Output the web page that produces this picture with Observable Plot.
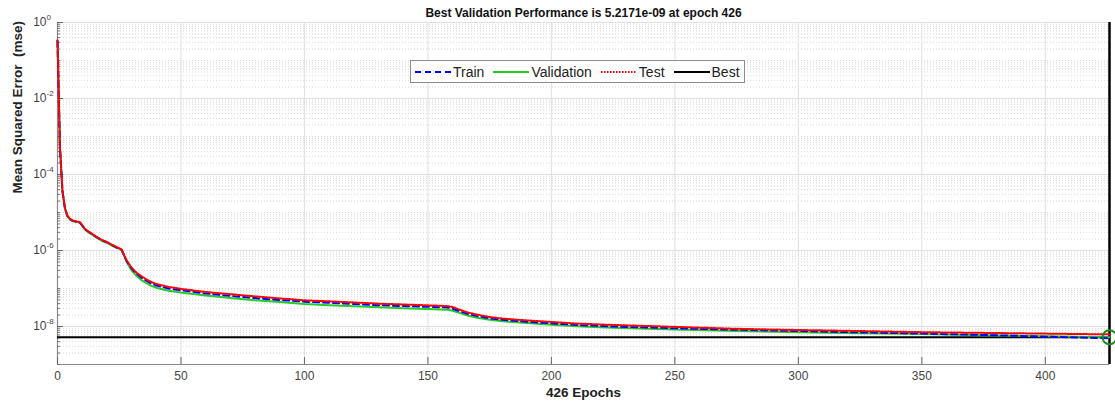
<!DOCTYPE html>
<html>
<head>
<meta charset="utf-8">
<script src="https://cdn.jsdelivr.net/npm/d3@7"></script>
<script src="https://cdn.jsdelivr.net/npm/@observablehq/plot@0.6"></script>
<style>
  body { margin: 0; background: #fff; font-family: "Liberation Sans", Arial, sans-serif; }
  #chart { position: relative; width: 1115px; height: 404px; }
  .legend {
    position: absolute; left: 410px; top: 60px; height: 23px;
    display: flex; align-items: center; padding: 0 4px 0 3px;
    background: #fff; border: 1px solid #8c8c8c; box-sizing: border-box;
    font-size: 14px; color: #222;
  }
  .legend .item { display: flex; align-items: center; margin-right: 8px; }
  .legend .item:last-child { margin-right: 0; }
  .legend svg { display: block; margin-right: 1px; }
</style>
</head>
<body>
<div id="chart"></div>
<script>
// Training record: mean squared error per epoch for each data split
const epochs = [0, 1, 2, 3, 4, 5, 6, 7, 8, 9, 10, 11, 12, 14, 16, 18, 20, 22, 24, 25, 26, 27, 28, 30, 32, 34, 36, 38, 40, 45, 50, 60, 70, 80, 90, 100, 110, 120, 130, 140, 150, 155, 158, 160, 163, 166, 170, 175, 180, 190, 200, 210, 225, 250, 275, 300, 325, 350, 375, 400, 426];

const trainMse = [3.2e-1, 5.2e-4, 3.7e-5, 1.3e-5, 8.1e-6, 6.8e-6, 6.1e-6, 5.85e-6, 5.7e-6, 5.5e-6, 4.6e-6, 3.7e-6, 3.3e-6, 2.7e-6, 2.2e-6, 1.85e-6, 1.65e-6, 1.4e-6, 1.2e-6, 1.13e-6, 1.04e-6, 7.4e-7, 5.3e-7, 3.35e-7, 2.45e-7, 1.92e-7, 1.6e-7, 1.35e-7, 1.2e-7, 1.0e-7, 9.0e-8, 7.4e-8, 6.4e-8, 5.6e-8, 5.0e-8, 4.5e-8, 4.2e-8, 3.9e-8, 3.65e-8, 3.45e-8, 3.3e-8, 3.22e-8, 3.15e-8, 2.95e-8, 2.5e-8, 2.15e-8, 1.88e-8, 1.64e-8, 1.5e-8, 1.33e-8, 1.21e-8, 1.1e-8, 1.0e-8, 9.0e-9, 8.2e-9, 7.6e-9, 7.0e-9, 6.5e-9, 6.0e-9, 5.4e-9, 4.9e-9];

const validationMse = [3.3e-1, 5.0e-4, 3.55e-5, 1.26e-5, 7.9e-6, 6.6e-6, 6.0e-6, 5.75e-6, 5.6e-6, 5.4e-6, 4.5e-6, 3.6e-6, 3.2e-6, 2.6e-6, 2.15e-6, 1.8e-6, 1.6e-6, 1.35e-6, 1.17e-6, 1.1e-6, 1.0e-6, 7.1e-7, 5.0e-7, 3.0e-7, 2.15e-7, 1.66e-7, 1.38e-7, 1.17e-7, 1.05e-7, 8.7e-8, 7.8e-8, 6.5e-8, 5.6e-8, 4.9e-8, 4.4e-8, 3.9e-8, 3.6e-8, 3.4e-8, 3.2e-8, 3.0e-8, 2.9e-8, 2.82e-8, 2.75e-8, 2.6e-8, 2.25e-8, 1.95e-8, 1.7e-8, 1.5e-8, 1.38e-8, 1.23e-8, 1.12e-8, 1.02e-8, 9.3e-9, 8.3e-9, 7.6e-9, 7.1e-9, 6.6e-9, 6.3e-9, 5.9e-9, 5.55e-9, 5.2171e-9];

const testMse = [3.4e-1, 5.4e-4, 3.8e-5, 1.33e-5, 8.3e-6, 6.9e-6, 6.2e-6, 5.95e-6, 5.8e-6, 5.6e-6, 4.7e-6, 3.8e-6, 3.35e-6, 2.75e-6, 2.25e-6, 1.9e-6, 1.68e-6, 1.42e-6, 1.23e-6, 1.15e-6, 1.06e-6, 7.6e-7, 5.5e-7, 3.55e-7, 2.6e-7, 2.1e-7, 1.74e-7, 1.48e-7, 1.32e-7, 1.1e-7, 9.8e-8, 8.1e-8, 7.1e-8, 6.2e-8, 5.5e-8, 4.9e-8, 4.6e-8, 4.3e-8, 4.0e-8, 3.8e-8, 3.6e-8, 3.52e-8, 3.45e-8, 3.25e-8, 2.75e-8, 2.35e-8, 2.05e-8, 1.78e-8, 1.62e-8, 1.45e-8, 1.32e-8, 1.2e-8, 1.1e-8, 9.8e-9, 8.7e-9, 8.1e-9, 7.6e-9, 7.1e-9, 6.8e-9, 6.5e-9, 6.2e-9];

const bestEpoch = 426;
const bestMse = 5.2171e-9;

const xTicks = [0, 50, 100, 150, 200, 250, 300, 350, 400];
const yTicks = [1, 1e-2, 1e-4, 1e-6, 1e-8];
const yTickExponents = ["0", "-2", "-4", "-6", "-8"];

const titleText = "Best Validation Performance is 5.2171e-09 at epoch 426";
const xLabel = "426 Epochs";
const yLabel = "Mean Squared Error  (mse)";

const legendItems = [
  {name: "Train", color: "#0000ff", dash: "6,4", width: 2},
  {name: "Validation", color: "#22cc22", dash: null, width: 2},
  {name: "Test", color: "#ff0000", dash: "1.5,1.5", width: 2},
  {name: "Best", color: "#000000", dash: null, width: 2}
];

// Table for the line marks
const rows = epochs.map((e, i) => ({
  epoch: e, train: trainMse[i], validation: validationMse[i], test: testMse[i]
}));

// Log-axis furniture: minor steps 2..9 within every decade, plus the unlabeled odd decades
const minorY = d3.range(-9, 0).flatMap(k => d3.range(2, 10).map(m => m * Math.pow(10, k)))
  .concat([1e-9, 1e-7, 1e-5, 1e-3, 1e-1]);

const W = 1115, H = 404;
const mL = 57, mR = 6, mT = 22, mB = 40;
const frameW = W - mL - mR, frameH = H - mT - mB;
const axisGray = "#8a8a8a";
const labelGray = "#444";

const chart = Plot.plot({
  width: W, height: H,
  marginLeft: mL, marginRight: mR, marginTop: mT, marginBottom: mB,
  style: {fontFamily: '"Liberation Sans", Arial, sans-serif', background: "#fff", overflow: "visible"},
  x: {domain: [0, 426], axis: null},
  y: {type: "log", domain: [1e-9, 1], axis: null},
  marks: [
    // grid: dotted minor lines, solid major lines
    Plot.ruleY(minorY, {stroke: "#d8d8d8", strokeDasharray: "1,2", strokeWidth: 1}),
    Plot.ruleY(yTicks, {stroke: "#e0e0e0", strokeWidth: 1}),
    Plot.ruleX(xTicks, {stroke: "#e0e0e0", strokeWidth: 1}),

    // axis lines with inward ticks
    Plot.ruleX([0], {stroke: axisGray, strokeWidth: 1.2}),
    Plot.ruleY([1e-9], {stroke: axisGray, strokeWidth: 1.2}),
    Plot.tickY(yTicks, {y: d => d, stroke: "#666", insetRight: frameW - 6}),
    Plot.tickY(minorY, {y: d => d, stroke: "#777", insetRight: frameW - 3}),
    Plot.tickX(xTicks, {x: d => d, stroke: "#666", insetTop: frameH - 7}),

    // tick labels
    Plot.text(xTicks, {x: d => d, frameAnchor: "bottom", dy: 15, text: d => String(d), fill: labelGray, fontSize: 12}),
    Plot.text(yTicks, {y: d => d, frameAnchor: "left", dx: -11, textAnchor: "end", text: () => "10", fill: labelGray, fontSize: 12}),
    Plot.text(yTicks, {y: d => d, frameAnchor: "left", dx: -11, dy: -5, textAnchor: "start", text: (d, i) => yTickExponents[i], fill: labelGray, fontSize: 8}),

    // best validation markers
    Plot.ruleY([bestMse], {stroke: "#000", strokeWidth: 2}),
    Plot.ruleX([bestEpoch], {stroke: "#000", strokeWidth: 2.5}),

    // performance curves
    Plot.line(rows, {x: "epoch", y: "validation", stroke: legendItems[1].color, strokeWidth: 2}),
    Plot.line(rows, {x: "epoch", y: "train", stroke: legendItems[0].color, strokeWidth: 2, strokeDasharray: legendItems[0].dash}),
    Plot.line(rows, {x: "epoch", y: "test", stroke: legendItems[2].color, strokeWidth: 2, strokeDasharray: legendItems[2].dash}),

    Plot.dot([{epoch: bestEpoch, mse: bestMse}], {x: "epoch", y: "mse", r: 7, stroke: "#1f8a1f", strokeWidth: 2, fill: "none"}),

    // titles
    Plot.text([titleText], {frameAnchor: "top", dy: -14, fontWeight: "bold", fontSize: 12, fill: "#111"}),
    Plot.text([xLabel], {frameAnchor: "bottom", dy: 32, fontWeight: "bold", fontSize: 13.5, fill: "#222"}),
    Plot.text([yLabel], {frameAnchor: "left", dx: -40, rotate: -90, fontWeight: "bold", fontSize: 13.5, fill: "#222"})
  ]
});

const root = document.getElementById("chart");
root.appendChild(chart);

// Legend box drawn over the plot area
const legend = document.createElement("div");
legend.className = "legend";
for (const item of legendItems) {
  const el = document.createElement("div");
  el.className = "item";
  const sw = d3.create("svg").attr("width", 38).attr("height", 10);
  sw.append("line").attr("x1", 1).attr("x2", 37).attr("y1", 5).attr("y2", 5)
    .attr("stroke", item.color).attr("stroke-width", item.width)
    .attr("stroke-dasharray", item.dash);
  el.appendChild(sw.node());
  const label = document.createElement("span");
  label.textContent = item.name;
  el.appendChild(label);
  legend.appendChild(el);
}
root.appendChild(legend);
</script>
</body>
</html>
